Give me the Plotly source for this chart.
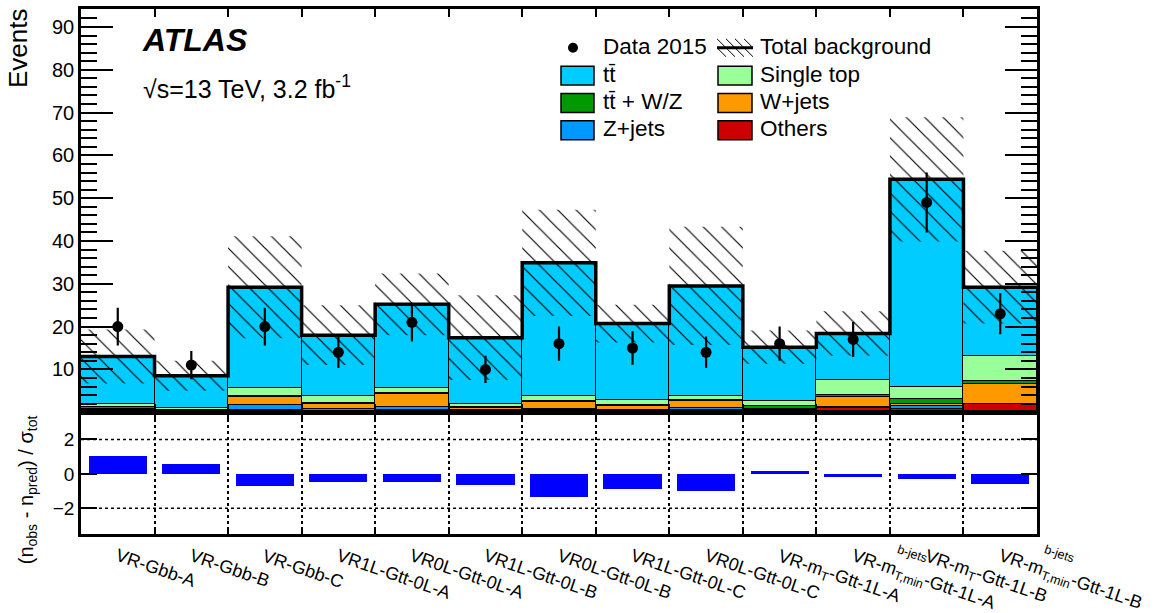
import plotly.graph_objects as go

# ---------------- data ----------------
regions = ["VR-Gbb-A", "VR-Gbb-B", "VR-Gbb-C", "VR1L-Gtt-0L-A", "VR0L-Gtt-0L-A",
           "VR1L-Gtt-0L-B", "VR0L-Gtt-0L-B", "VR1L-Gtt-0L-C", "VR0L-Gtt-0L-C",
           "VR-m<sub>T</sub>-Gtt-1L-A", "VR-m<sub>T,min</sub>-Gtt-1L-A",
           "VR-m<sub>T</sub>-Gtt-1L-B", "VR-m<sub>T,min</sub>-Gtt-1L-B"]
region_sup = ["", "", "", "", "", "", "", "", "", "", "b-jets", "", "b-jets"]

data = [20, 11, 20, 14, 21, 10, 16, 15, 14, 16, 17, 49, 23]
data_err = [4.4, 3.3, 4.4, 3.7, 4.5, 3.2, 4.0, 3.9, 3.7, 4.0, 4.1, 7.0, 4.8]

others = [0.2, 0.1, 0.6, 0.3, 0.4, 0.2, 0.4, 0.3, 0.4, 0.35, 0.9, 0.85, 1.8]
zjets = [0.2, 0.1, 1.1, 0.5, 0.8, 0.2, 0.45, 0.3, 0.6, 0.25, 0.25, 0.6, 0.2]
wjets = [0.4, 0.2, 1.8, 1.1, 3.0, 0.5, 1.45, 0.8, 1.55, 0.25, 2.4, 0.4, 4.7]
ttv = [0.5, 0.2, 0.3, 0.2, 0.3, 0.3, 0.25, 0.2, 0.25, 0.6, 0.55, 1.25, 0.5]
singletop = [0.6, 0.3, 1.9, 1.7, 1.1, 0.7, 1.35, 1.35, 1.1, 1.1, 3.5, 2.9, 6.0]
ttbar = [11.1, 7.6, 23.5, 14.2, 19.6, 15.5, 31.0, 17.75, 25.6, 12.65, 10.8, 48.4, 16.0]

total = [13.0, 8.5, 29.2, 18.0, 25.2, 17.4, 34.9, 20.7, 29.5, 15.2, 18.4, 54.4, 29.2]
total_err = [6.3, 3.5, 11.9, 7.0, 7.2, 9.9, 12.4, 4.4, 13.8, 3.9, 5.2, 14.5, 8.5]

significance = [1.0, 0.54, -0.73, -0.48, -0.48, -0.67, -1.35, -0.9, -1.02, 0.13, -0.19, -0.33, -0.61]

# ---------------- styles ----------------
FONT = "Liberation Sans"
C_TT, C_ST, C_TTV, C_W, C_Z, C_OTH = "#00CCFF", "#99FF99", "#009900", "#FF9900", "#0099FF", "#CC0000"
W, H = 1157, 613
ML, MR, MT, MB = 81, 120, 6, 79
PW, PH = W - ML - MR, H - MT - MB


def fx(px):
    return (px - ML) / PW


def fy(py):
    return (H - MB - py) / PH


n = len(regions)
centers = [i + 0.5 for i in range(n)]
edges = list(range(n + 1))

fig = go.Figure()

stack = [("Others", others, C_OTH), ("Z+jets", zjets, C_Z), ("W+jets", wjets, C_W),
         ("tt+W/Z", ttv, C_TTV), ("Single top", singletop, C_ST), ("tt", ttbar, C_TT)]
for name, vals, col in stack:
    fig.add_trace(go.Bar(x=centers, y=vals, width=1.0, name=name, xaxis="x", yaxis="y",
                         marker=dict(color=col, line=dict(color="black", width=1.5)),
                         showlegend=False, hoverinfo="skip"))

# hatched uncertainty band
bx, by = [], []
for i in range(n):
    lo = total[i] - total_err[i]
    hi = total[i] + total_err[i]
    bx += [edges[i], edges[i + 1], edges[i + 1], edges[i], edges[i], None]
    by += [lo, lo, hi, hi, lo, None]
fig.add_trace(go.Scatter(x=bx, y=by, mode="lines", fill="toself", xaxis="x", yaxis="y",
                         line=dict(width=0, color="rgba(0,0,0,0)"),
                         fillcolor="rgba(0,0,0,0)",
                         fillpattern=dict(shape="\\", fgcolor="black", bgcolor="rgba(0,0,0,0)",
                                          size=13, solidity=0.09, fillmode="replace"),
                         showlegend=False, hoverinfo="skip"))

# total background step line
fig.add_trace(go.Scatter(x=edges, y=total + [total[-1]], mode="lines", line_shape="hv",
                         line=dict(color="black", width=3.5), xaxis="x", yaxis="y",
                         showlegend=False, hoverinfo="skip"))

# data
fig.add_trace(go.Scatter(x=centers, y=data, mode="markers", xaxis="x", yaxis="y",
                         marker=dict(color="black", size=11),
                         error_y=dict(type="data", array=data_err, color="black", thickness=2.2, width=0),
                         showlegend=False, hoverinfo="skip"))

# significance panel
fig.add_trace(go.Bar(x=centers, y=significance, width=0.79, xaxis="x2", yaxis="y2",
                     marker=dict(color="#0000FF", line=dict(width=0)),
                     showlegend=False, hoverinfo="skip"))

axcommon = dict(showline=True, linewidth=2.5, linecolor="black", mirror="ticks",
                tickcolor="black", ticks="inside")

fig.update_layout(
    width=W, height=H,
    margin=dict(l=ML, r=MR, t=MT, b=MB),
    paper_bgcolor="white", plot_bgcolor="white",
    barmode="stack", bargap=0,
    font=dict(family=FONT, color="black"),
    xaxis=dict(domain=[0, 1], anchor="y", range=[0, n], tickvals=edges[1:-1], ticklen=8, tickwidth=1.5,
               showticklabels=False, showgrid=False, zeroline=False, **axcommon),
    yaxis=dict(domain=[fy(411.5), 1], anchor="x", range=[0, 94.2], tickvals=list(range(10, 100, 10)),
               ticklen=32, tickwidth=2, showgrid=False, zeroline=False,
               tickfont=dict(size=20, family=FONT),
               minor=dict(dtick=2, tick0=0, ticks="inside", ticklen=16, tickwidth=1.5, tickcolor="black"),
               **axcommon),
    xaxis2=dict(domain=[0, 1], anchor="y2", range=[0, n], tickvals=edges[1:-1], ticklen=6, tickwidth=1.5,
                showticklabels=False, showgrid=True, griddash="dot", gridcolor="black", gridwidth=1.5,
                zeroline=False, **axcommon),
    yaxis2=dict(domain=[0, fy(412.5)], anchor="x2", range=[-3.5, 3.53], tickvals=[-2, 0, 2],
                ticktext=["\u22122", "0", "2"], ticklen=16, tickwidth=2, showgrid=False, zeroline=False,
                tickfont=dict(size=19, family=FONT), **axcommon),
)

shapes = []
for yv in (-2, 2):
    shapes.append(dict(type="line", xref="x2 domain", yref="y2", x0=0, x1=1, y0=yv, y1=yv,
                       line=dict(color="black", width=1.5, dash="dot"), layer="below"))

annotations = []


def ann(text, px, py, size, xanchor="left", yanchor="middle", angle=0, **kw):
    annotations.append(dict(text=text, x=fx(px), y=fy(py), xref="paper", yref="paper",
                            xanchor=xanchor, yanchor=yanchor, textangle=angle, showarrow=False,
                            font=dict(family=FONT, size=size, color="black"), **kw))


ann("Events", 18, 3, 26, xanchor="center", yanchor="top", angle=-90)
ann("(n<sub>obs</sub> - n<sub>pred</sub>) / \u03c3<sub>tot</sub>", 27, 490, 20,
    xanchor="center", yanchor="middle", angle=-90)
ann("<b><i>ATLAS</i></b>", 140, 37, 32)
ann("\u221as=13 TeV, 3.2 fb<sup>-1</sup>", 141, 84, 25)

# legend (custom)
rows = [45, 73, 100.5, 128]
col_box = [(561, 594), (718, 752)]
col_txt = [601, 758]
entries = [("Data 2015", None, 0, 0), ("Total background", None, 1, 0),
           ("tt\u0304", C_TT, 0, 1), ("Single top", C_ST, 1, 1),
           ("tt\u0304 + W/Z", C_TTV, 0, 2), ("W+jets", C_W, 1, 2),
           ("Z+jets", C_Z, 0, 3), ("Others", C_OTH, 1, 3)]
for label, col, c, r in entries:
    ann(label, col_txt[c], rows[r] - 1.5, 22.5)
    if col is not None:
        x0, x1 = col_box[c]
        shapes.append(dict(type="rect", xref="paper", yref="paper", x0=fx(x0), x1=fx(x1),
                           y0=fy(rows[r] - 9.5), y1=fy(rows[r] + 9.5), fillcolor=col,
                           line=dict(color="black", width=1.5)))
# data marker symbol
shapes.append(dict(type="circle", xref="paper", yref="paper", x0=fx(568), x1=fx(578),
                   y0=fy(rows[0] - 5), y1=fy(rows[0] + 5), fillcolor="black", line=dict(width=0)))
# total background symbol: hatch + line
hx0, hx1, hy0, hy1 = 717, 753, rows[0] - 9, rows[0] + 9
for k in range(-2, 5):
    sx, sy = hx0 + 9 * k, hy0
    ex, ey = sx + (hy1 - hy0), hy1
    if sx < hx0:
        sy += hx0 - sx
        sx = hx0
    if ex > hx1:
        ey -= ex - hx1
        ex = hx1
    if ex > sx:
        shapes.append(dict(type="line", xref="paper", yref="paper", x0=fx(sx), x1=fx(ex),
                           y0=fy(sy), y1=fy(ey), line=dict(color="black", width=1)))
shapes.append(dict(type="line", xref="paper", yref="paper", x0=fx(hx0), x1=fx(hx1),
                   y0=fy(rows[0]), y1=fy(rows[0]), line=dict(color="black", width=3)))

# x-axis category labels (rotated)
for i, lab in enumerate(regions):
    annotations.append(dict(text=lab, x=centers[i], y=fy(543), xref="x2", yref="paper",
                            xanchor="left", yanchor="top", textangle=19, xshift=-7, showarrow=False,
                            font=dict(family=FONT, size=18, color="black")))
    if region_sup[i]:
        annotations.append(dict(text=region_sup[i], x=centers[i], y=fy(539.5), xref="x2", yref="paper",
                                xanchor="left", yanchor="top", textangle=19, xshift=40, showarrow=False,
                                font=dict(family=FONT, size=12.5, color="black")))

fig.update_layout(shapes=shapes, annotations=annotations)

fig.write_html("out.html", post_script="document.body.style.margin='0px';",
               config={"displayModeBar": False})
